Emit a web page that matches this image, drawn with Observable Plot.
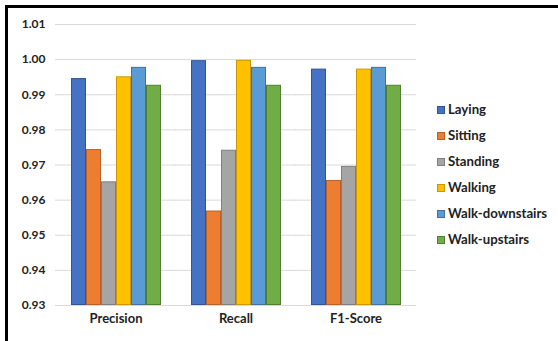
<!DOCTYPE html>
<html>
<head>
<meta charset="utf-8">
<script src="https://cdn.jsdelivr.net/npm/d3@7"></script>
<script src="https://cdn.jsdelivr.net/npm/@observablehq/plot@0.6"></script>
<style>
  html, body { margin: 0; padding: 0; background: #fff; }
  #wrap { position: relative; width: 558px; height: 341px; overflow: hidden; font-family: Lato, "Open Sans", sans-serif; }
  #frame { position: absolute; left: 5px; top: 5px; width: 600px; height: 400px; border-left: 3px solid #000; border-top: 3px solid #000; box-sizing: border-box; pointer-events: none; }
  #legend { position: absolute; left: 437px; top: 101px; }
  .item { position: absolute; left: 0; height: 16px; line-height: 16px; white-space: nowrap; font-weight: bold; font-size: 13.2px; color: #222; }
  .sw { display: inline-block; width: 6px; height: 6px; margin-right: 3px; vertical-align: middle; position: relative; top: -1px; border: 1px solid; }
</style>
</head>
<body>
<div id="wrap"><div id="chart"></div><div id="legend"></div><div id="frame"></div></div>
<script>
const metrics = ["Precision", "Recall", "F1-Score"];
const activities = ["Laying", "Sitting", "Standing", "Walking", "Walk-downstairs", "Walk-upstairs"];
const precision = [0.9946, 0.9744, 0.9652, 0.9951, 0.9978, 0.9927];
const recall    = [0.9997, 0.9569, 0.9742, 0.9998, 0.9978, 0.9927];
const f1score   = [0.9973, 0.9656, 0.9696, 0.9973, 0.9978, 0.9927];
const yTicks = [0.93, 0.94, 0.95, 0.96, 0.97, 0.98, 0.99, 1.00, 1.01];
const fills   = ["#4472C4", "#ED7D31", "#A5A5A5", "#FFC000", "#5B9BD5", "#70AD47"];
const strokes = ["#2F5597", "#B8622A", "#7F7F7F", "#C99700", "#41719C", "#507E32"];

const series = [precision, recall, f1score];
const data = [];
metrics.forEach((m, i) => activities.forEach((a, j) => data.push({metric: m, activity: a, value: series[i][j]})));

const chart = Plot.plot({
  width: 558,
  height: 341,
  marginLeft: 55,
  marginRight: 142,
  marginTop: 24,
  marginBottom: 36,
  style: {fontFamily: "Lato, 'Open Sans', sans-serif", background: "transparent"},
  fx: {domain: metrics, paddingInner: 0.21, paddingOuter: 0.105, label: null, axis: null},
  x: {domain: activities, padding: 0, axis: null},
  y: {domain: [0.93, 1.01], ticks: yTicks, tickFormat: d3.format(".2f"), label: null, axis: null},
  color: {domain: activities, range: fills},
  marks: [
    Plot.ruleY(yTicks, {stroke: "#d9d9d9", strokeWidth: 1, insetLeft: -13, insetRight: -13}),
    Plot.axisY({ticks: yTicks, tickSize: 0, tickPadding: 23, fontWeight: "bold", fontSize: 12, fill: "#222", label: null, tickFormat: d3.format(".2f")}),
    Plot.barY(data, {
      fx: "metric", x: "activity", y1: () => 0.93, y2: "value",
      fill: "activity",
      stroke: d => strokes[activities.indexOf(d.activity)],
      strokeWidth: 1, inset: 0.5
    }),
    Plot.axisFx({tickSize: 0, tickPadding: 8, fontWeight: "bold", fontSize: 13, fill: "#222", label: null, anchor: "bottom"})
  ]
});
document.getElementById("chart").appendChild(chart);

const legend = document.getElementById("legend");
activities.forEach((a, i) => {
  const d = document.createElement("div");
  d.className = "item";
  d.style.top = (i * 26) + "px";
  d.innerHTML = `<span class="sw" style="background:${fills[i]};border-color:${strokes[i]}"></span>${a}`;
  legend.appendChild(d);
});
</script>
</body>
</html>
